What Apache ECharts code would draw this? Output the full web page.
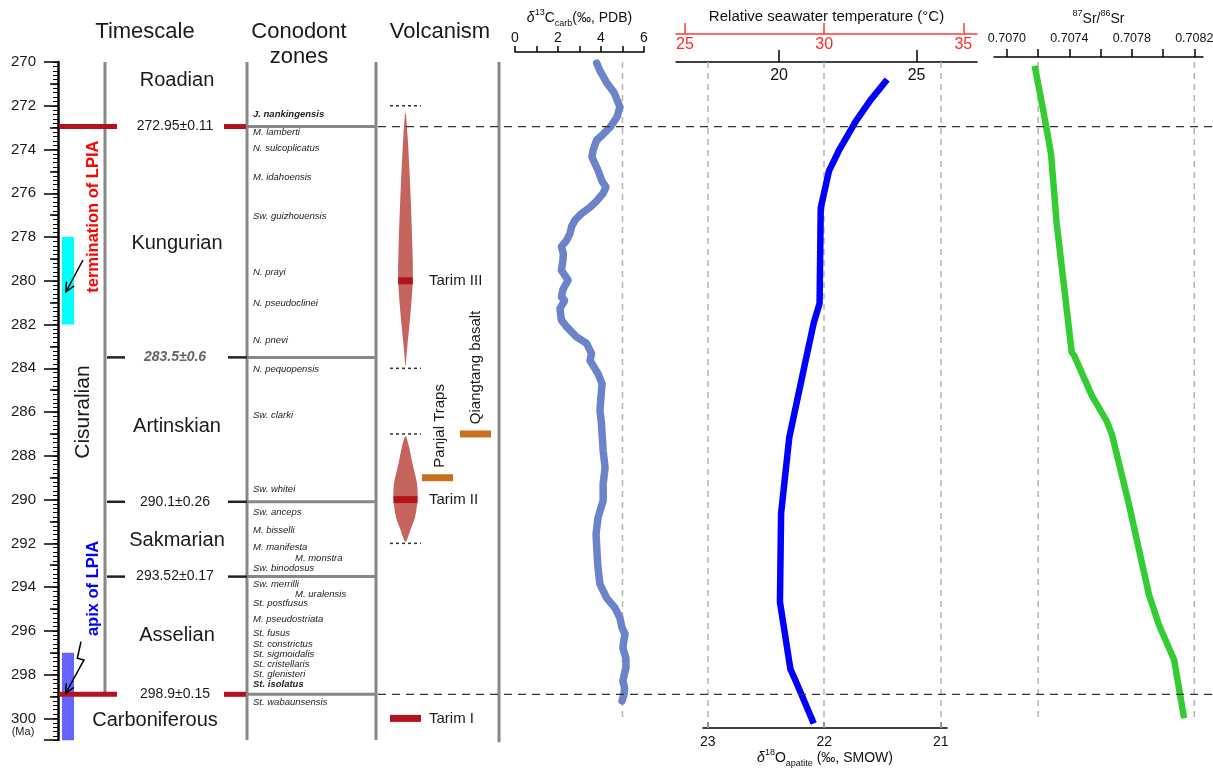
<!DOCTYPE html>
<html><head><meta charset="utf-8">
<script src="https://cdn.jsdelivr.net/npm/echarts@6/dist/echarts.min.js"></script>
<style>html,body{margin:0;padding:0;background:#fff}#c{width:1213px;height:768px}</style>
</head><body><div id="c"></div>
<script>
// ================= DATA =================
// δ13C carb (‰ PDB) vs age (Ma)
const c13Age = [270.05,270.40,270.95,271.42,272.05,272.50,272.95,273.30,273.57,274.03,274.35,274.95,275.45,275.72,276.00,276.35,276.64,276.92,277.23,277.50,277.83,278.15,278.44,278.75,279.06,279.52,279.97,280.40,280.74,280.90,281.27,281.80,282.10,282.56,282.86,283.33,283.64,284.24,284.70,285.30,285.93,286.50,286.99,287.77,288.54,289.28,290.05,290.83,291.57,292.34,293.12,293.86,294.50,294.95,295.41,295.87,296.14,296.50,296.79,297.24,297.70,298.00,298.30,298.60,298.89,299.20];
const c13Val = [3.80,3.95,4.27,4.62,4.88,4.75,4.45,4.10,3.80,3.63,3.58,3.86,4.05,4.23,4.10,3.80,3.49,3.10,2.79,2.64,2.56,2.40,2.16,2.25,2.23,2.16,2.47,2.23,2.16,2.31,2.09,2.16,2.40,2.86,3.33,3.56,3.49,3.86,4.05,4.00,3.95,4.02,4.05,4.10,4.19,4.10,4.10,3.86,3.77,3.81,3.86,3.95,4.27,4.65,4.88,4.98,5.12,5.05,5.02,5.16,5.16,5.08,5.02,5.10,5.07,4.98];
const c13Ref = 5;
// δ18O apatite (‰ SMOW)
const o18Age = [270.80,271.72,272.71,274.00,274.99,276.67,281.03,281.92,283.90,287.16,290.63,294.68,297.75,298.35,300.23];
const o18Val = [21.46,21.60,21.73,21.87,21.96,22.03,22.04,22.09,22.17,22.30,22.37,22.38,22.29,22.24,22.09];
const o18Ticks = [21,22,23];
// relative seawater temperature axes
const tempAbsTicks = [20,25];
const tempRelTicks = [25,30,35];
// 87Sr/86Sr
const srAge = [270.18,272.20,274.18,277.34,283.27,283.43,285.25,286.44,287.03,290.20,294.35,295.73,297.32,299.99];
const srVal = [0.707178,0.707232,0.707282,0.707318,0.707415,0.707432,0.707544,0.707641,0.707673,0.707781,0.707910,0.707974,0.708071,0.708135];
const srTicks = [0.7070,0.7072,0.7074,0.7076,0.7078,0.7080,0.7082];
const srLabels = [0.7070,0.7074,0.7078,0.7082];
const srRef = [0.7072,0.7082];
// left age axis
const ageMin = 270, ageLabelStep = 2;
// timescale
const stageNames = ['Roadian','Kungurian','Artinskian','Sakmarian','Asselian','Carboniferous'];
const stageAges = [270.85,278.29,286.67,291.85,296.19,300.1];
const boundaryAges = [272.95,283.5,290.1,293.52,298.9];
const boundaryLabels = ['272.95±0.11','283.5±0.6','290.1±0.26','293.52±0.17','298.9±0.15'];
const keyBoundaries = [272.95,298.9];
const seriesName = 'Cisuralian', seriesLabelAge = 286.0;
const lpiaTermination = [278,282], lpiaApex = [297,301];
const lpiaTermText = 'termination of LPIA', lpiaTermTextAge = 277.07;
const lpiaApexText = 'apix of LPIA', lpiaApexTextAge = 294.06;
// conodont zones
const conoNames = ['J. nankingensis','M. lamberti','N. sulcoplicatus','M. idahoensis','Sw. guizhouensis','N. prayi','N. pseudoclinei','N. pnevi','N. pequopensis','Sw. clarki','Sw. whitei','Sw. anceps','M. bisselli','M. manifesta','M. monstra','Sw. binodosus','Sw. merrilli','M. uralensis','St. postfusus','M. pseudostriata','St. fusus','St. constrictus','St. sigmoidalis','St. cristellaris','St. glenisteri','St. isolatus','St. wabaunsensis'];
const conoAges = [272.38,273.21,273.94,275.27,277.04,279.63,281.03,282.71,284.04,286.13,289.53,290.60,291.39,292.20,292.70,293.14,293.87,294.31,294.74,295.47,296.11,296.61,297.09,297.53,297.97,298.44,299.26];
const conoBold = ['J. nankingensis','St. isolatus'];
const conoIndented = ['M. monstra','M. uralensis'];
// volcanism
const tarimNames = ['Tarim I','Tarim II','Tarim III'];
const tarimPeak = [300,290,280];
const spindleIIIAge = [272.3,273.3,274.8,276.3,278.5,280,281.67,283.17,283.9];
const spindleIIIRel = [0,0.27,0.52,0.72,0.95,1,0.64,0.2,0];
const spindleIIAge = [287.1,287.6,288.35,289.27,290,290.8,291.4,291.93];
const spindleIIRel = [0,0.3,0.58,0.96,1,0.8,0.4,0];
const pulseLimits = [272,284,287,292];
const otherVolcNames = ['Panjal Traps','Qiangtang basalt'];
const otherVolcAges = [289,287];
const otherVolcLabelAges = [286.63,283.96];

// ================= LAYOUT =================
const FONT = '"Liberation Sans", Arial, Helvetica, sans-serif';
const TOP = 62, PX = 21.88;
const AGE_BOT = ageMin + (740 - TOP) / PX;
const AGE_BOT_O = ageMin + (728 - TOP) / PX;
const GRAY = '#878787', DRED = '#b3141c', ORANGE = '#c8701e', SPIN = '#c4645d';
const LX = { tsLine:105, conLine:247, volLine:376, endLine:499, stage:177, carb:155, bnd:175,
  cono:253, conoIndent:295, volc:405.5, volcLabel:429, lpia:[62,74], lpiaText:93, cis:83,
  dotted:[390,421], otherBars:[[422,453],[460,491]], otherText:[440,476] };
const spindleHalf = {II:12, III:7.3};
const bandHalf = [15.5,12,7.3];

// ---------- annotation builders (grid 0) ----------
const segs = [];
function seg(x1,a1,x2,a2,color,width,dash){ segs.push({x1,a1,x2,a2,color,width,dash}); }
seg(LX.tsLine, ageMin, LX.tsLine, 298.9, GRAY, 3);
[LX.conLine, LX.volLine].forEach(x => seg(x, ageMin, x, AGE_BOT, GRAY, 3));
seg(LX.endLine, ageMin, LX.endLine, AGE_BOT + 0.1, GRAY, 3);
boundaryAges.forEach(a => {
  seg(LX.conLine, a, LX.volLine, a, GRAY, 3);
  if (keyBoundaries.includes(a)) {
    seg(59, a, 117, a, DRED, 5);
    seg(224, a, 246, a, DRED, 5);
  } else {
    seg(107, a, 125, a, '#222', 2.5);
    seg(228, a, 247, a, '#222', 2.5);
  }
});
pulseLimits.forEach(a => seg(LX.dotted[0], a, LX.dotted[1], a, '#333', 1.5, [3,3]));

const rects = [];
function rect(x1,x2,a1,a2,color,hpx){ rects.push({x1,x2,a1,a2,color,hpx}); }
rect(LX.lpia[0], LX.lpia[1], lpiaTermination[0], lpiaTermination[1], '#00ffff');
rect(LX.lpia[0], LX.lpia[1], lpiaApex[0], lpiaApex[1], '#6464ff');

const texts = [];
function txt(x,a,text,o){ texts.push(Object.assign({x,a,text},o||{})); }
stageNames.forEach((n,i) => txt(n==='Carboniferous'?LX.carb:LX.stage, stageAges[i], n, {size:20}));
boundaryLabels.forEach((t,i) => txt(LX.bnd, boundaryAges[i], t,
  i===1 ? {size:14, weight:'bold', style:'italic', color:'#666'} : {size:14}));
txt(LX.cis, seriesLabelAge, seriesName, {size:21, rot:Math.PI/2});
txt(LX.lpiaText, lpiaTermTextAge, lpiaTermText, {size:16.5, weight:'bold', color:'#ff0000', rot:Math.PI/2});
txt(LX.lpiaText, lpiaApexTextAge, lpiaApexText, {size:16.5, weight:'bold', color:'#0000ff', rot:Math.PI/2});
conoNames.forEach((n,i) => txt(conoIndented.includes(n)?LX.conoIndent:LX.cono, conoAges[i], n,
  {size:9.5, style:'italic', weight: conoBold.includes(n)?'bold':'normal', align:'left', color:'#222'}));
tarimNames.forEach((n,i) => {
  txt(LX.volcLabel, tarimPeak[i], n, {size:15, align:'left'});
  rect(LX.volc - bandHalf[i], LX.volc + bandHalf[i], tarimPeak[i], tarimPeak[i], DRED, 7);
});
otherVolcNames.forEach((n,i) => {
  rect(LX.otherBars[i][0], LX.otherBars[i][1], otherVolcAges[i], otherVolcAges[i], ORANGE, 7);
  txt(LX.otherText[i], otherVolcLabelAges[i], n, {size:15, rot:Math.PI/2});
});

const spindles = [
  {ages:spindleIIIAge, rel:spindleIIIRel, half:spindleHalf.III},
  {ages:spindleIIAge, rel:spindleIIRel, half:spindleHalf.II}
];
const arrows = [
  [[83,279.05],[66,280.5]],
  [[81,296.49],[77.3,297.25],[84,297.33],[65.7,298.85]]
];

function custom(data, renderItem, z){
  return {type:'custom', xAxisIndex:0, yAxisIndex:0, silent:true, clip:false, z:z||3,
    data, renderItem};
}
const annotSeries = [
  custom(rects.map(r=>[r.x1,r.a1,r.x2,r.a2]), (p,api)=>{
    const r = rects[p.dataIndex];
    const a = api.coord([api.value(0), api.value(1)]), b = api.coord([api.value(2), api.value(3)]);
    let y1 = a[1], y2 = b[1];
    if (r.hpx) { y1 = a[1] - r.hpx/2; y2 = a[1] + r.hpx/2; }
    return {type:'rect', shape:{x:a[0], y:y1, width:b[0]-a[0], height:y2-y1}, style:{fill:r.color}};
  }, 3),
  custom(spindles.map(s=>[LX.volc, s.ages[0]]), (p,api)=>{
    const s = spindles[p.dataIndex];
    const L = [], R = [];
    s.ages.forEach((a,i)=>{ const c = api.coord([LX.volc, a]); L.push([c[0]-s.rel[i]*s.half, c[1]]); R.push([c[0]+s.rel[i]*s.half, c[1]]); });
    const pts = L.concat(R.slice(1,-1).reverse());
    return {type:'polygon', shape:{points:pts, smooth:0.3}, style:{fill:SPIN}};
  }, 2),
  custom(segs.map(s=>[s.x1,s.a1,s.x2,s.a2]), (p,api)=>{
    const s = segs[p.dataIndex];
    const a = api.coord([api.value(0), api.value(1)]), b = api.coord([api.value(2), api.value(3)]);
    return {type:'line', shape:{x1:a[0],y1:a[1],x2:b[0],y2:b[1]}, style:{stroke:s.color, lineWidth:s.width, lineDash:s.dash||null}};
  }, 4),
  custom(texts.map(t=>[t.x,t.a]), (p,api)=>{
    const t = texts[p.dataIndex];
    const c = api.coord([api.value(0), api.value(1)]);
    return {type:'text', x:c[0], y:c[1], rotation:t.rot||0,
      style:{text:t.text, fill:t.color||'#1a1a1a', fontSize:t.size, fontFamily:FONT,
        fontWeight:t.weight||'normal', fontStyle:t.style||'normal', align:t.align||'center', verticalAlign:'middle'}};
  }, 6),
  custom(arrows.map(a=>a[0]), (p,api)=>{
    const pts = arrows[p.dataIndex].map(q=>api.coord(q));
    const e = pts[pts.length-1], s = pts[pts.length-2];
    const ang = Math.atan2(e[1]-s[1], e[0]-s[0]), L = 10, w = 0.45;
    const h1 = [e[0]-L*Math.cos(ang-w), e[1]-L*Math.sin(ang-w)];
    const h2 = [e[0]-L*Math.cos(ang+w), e[1]-L*Math.sin(ang+w)];
    return {type:'group', children:[
      {type:'polyline', shape:{points:pts}, style:{stroke:'#000', lineWidth:1.5, fill:null}},
      {type:'polyline', shape:{points:[h1,e,h2]}, style:{stroke:'#000', lineWidth:1.5, fill:null}}
    ]};
  }, 6)
];

// ---------- axes ----------
const hiddenY = (g, max) => ({gridIndex:g, type:'value', inverse:true, min:ageMin, max:max, show:false});
const blk = {color:'#000', width:1.5};
const richSS = {i:{fontStyle:'italic', fontSize:14, fontFamily:FONT, color:'#111'},
  sup:{fontSize:9, verticalAlign:'top', fontFamily:FONT, color:'#111', lineHeight:20},
  sub:{fontSize:9, verticalAlign:'bottom', fontFamily:FONT, color:'#111', lineHeight:20}};
const G = (o) => Object.assign({containLabel:false, outerBoundsMode:'none'}, o);

const option = {
  animation:false, backgroundColor:'#fff', textStyle:{fontFamily:FONT},
  grid:[
    G({left:58, top:TOP, width:442, height:678}),
    G({left:515, top:TOP, width:129, height:678}),
    G({left:703, top:TOP, width:244, height:666}),
    G({left:676, top:TOP, width:301, height:20}),
    G({left:994, top:TOP, width:209, height:678}),
    G({left:378, top:TOP, width:835, height:678})
  ],
  xAxis:[
    {gridIndex:0, type:'value', min:58, max:500, show:false},
    {gridIndex:1, type:'value', position:'top', offset:10, min:0, max:6, interval:1,
      axisLine:{onZero:false, lineStyle:blk}, axisTick:{length:6, lineStyle:blk},
      axisLabel:{margin:7, fontSize:14, color:'#111', formatter:v=>(v%2===0?String(v):'')},
      splitLine:{show:false},
      name:'{i|δ}{sup|13}C{sub|carb}(‰, PDB)', nameLocation:'middle', nameGap:24, nameMoveOverlap:false,
      nameTextStyle:{fontSize:14, color:'#111', lineHeight:20, rich:richSS}},
    {gridIndex:2, type:'value', position:'bottom', inverse:true, min:20.947, max:23.04,
      axisLine:{onZero:false, lineStyle:blk},
      axisTick:{inside:true, length:6, lineStyle:blk, customValues:o18Ticks},
      axisLabel:{margin:7, fontSize:14, color:'#111', customValues:o18Ticks},
      splitLine:{show:false},
      name:'{i|δ}{sup|18}O{sub|apatite} (‰, SMOW)', nameLocation:'middle', nameGap:20, nameMoveOverlap:false,
      nameTextStyle:{fontSize:14, color:'#111', lineHeight:20, rich:richSS}},
    {gridIndex:3, type:'value', position:'top', min:16.25, max:27.2,
      axisLine:{onZero:false, lineStyle:blk},
      axisTick:{length:12, lineStyle:blk, customValues:tempAbsTicks},
      axisLabel:{inside:true, margin:6, fontSize:16, color:'#111', customValues:tempAbsTicks},
      splitLine:{show:false}},
    {gridIndex:3, type:'value', position:'top', offset:28, min:24.68, max:35.49,
      axisLine:{onZero:false, lineStyle:{color:'#ff3b3b', width:1.5}},
      axisTick:{length:11, lineStyle:{color:'#ff3b3b', width:1.5}, customValues:tempRelTicks},
      axisLabel:{inside:true, margin:3, fontSize:16, color:'#ff2a2a', customValues:tempRelTicks},
      splitLine:{show:false},
      name:'Relative seawater temperature (°C)', nameLocation:'middle', nameGap:10, nameMoveOverlap:false,
      nameTextStyle:{fontSize:15, color:'#111'}},
    {gridIndex:4, type:'value', position:'top', offset:5, min:0.706917, max:0.708256,
      axisLine:{onZero:false, lineStyle:blk},
      axisTick:{length:8, lineStyle:blk, customValues:srTicks},
      axisLabel:{margin:12, fontSize:12.5, color:'#111', customValues:srLabels, formatter:v=>v.toFixed(4)},
      splitLine:{show:false},
      name:'{sup|87}Sr/{sup|86}Sr', nameLocation:'middle', nameGap:28, nameMoveOverlap:false,
      nameTextStyle:{fontSize:14, color:'#111', lineHeight:20, rich:richSS}},
    {gridIndex:5, type:'value', min:0, max:1, show:false}
  ],
  yAxis:[
    {gridIndex:0, type:'value', position:'left', inverse:true, min:ageMin, max:AGE_BOT, interval:ageLabelStep,
      axisLine:{show:true, lineStyle:{color:'#000', width:2.5}},
      axisTick:{show:true, length:14, lineStyle:{color:'#000', width:1.5}},
      minorTick:{show:true, splitNumber:2, length:8, lineStyle:{color:'#000', width:1.5}},
      axisLabel:{margin:22, fontSize:15, color:'#1a1a1a', showMaxLabel:false},
      splitLine:{show:false}, minorSplitLine:{show:false}},
    {gridIndex:0, type:'value', position:'left', inverse:true, min:ageMin, max:AGE_BOT, interval:1,
      axisLine:{show:false}, axisLabel:{show:false},
      axisTick:{show:true, length:5, lineStyle:{color:'#000', width:1}},
      minorTick:{show:true, splitNumber:5, length:5, lineStyle:{color:'#000', width:1}},
      splitLine:{show:false}, minorSplitLine:{show:false}},
    hiddenY(1, AGE_BOT), hiddenY(2, AGE_BOT_O),
    {gridIndex:3, type:'value', min:0, max:1, show:false},
    hiddenY(4, AGE_BOT), hiddenY(5, AGE_BOT)
  ],
  series:[
    ...annotSeries,
    {type:'line', xAxisIndex:1, yAxisIndex:2, silent:true, showSymbol:false, z:2,
      data:[[c13Ref, ageMin],[c13Ref, 300]], lineStyle:{color:'#b4b4b4', width:1.5, type:[6,5]}},
    {type:'line', xAxisIndex:1, yAxisIndex:2, silent:true, showSymbol:false, z:3,
      data:c13Val.map((v,i)=>[v, c13Age[i]]),
      lineStyle:{color:'#6b83c8', width:7.5, cap:'round', join:'round'}},
    {type:'line', xAxisIndex:2, yAxisIndex:3, silent:true, showSymbol:false, z:3,
      data:o18Val.map((v,i)=>[v, o18Age[i]]),
      lineStyle:{color:'#0000ff', width:6.5, join:'round'},
      markLine:{silent:true, symbol:['none','none'], label:{show:false}, z:1,
        lineStyle:{color:'#b4b4b4', width:1.5, type:[6,5]},
        data:o18Ticks.map(v=>({xAxis:v}))}},
    ...srRef.map(v=>({type:'line', xAxisIndex:5, yAxisIndex:5, silent:true, showSymbol:false, z:2,
      data:[[v, ageMin],[v, 300]], lineStyle:{color:'#b4b4b4', width:1.5, type:[6,5]}})),
    {type:'line', xAxisIndex:5, yAxisIndex:5, silent:true, showSymbol:false, z:3,
      data:srVal.map((v,i)=>[v, srAge[i]]),
      lineStyle:{color:'#33cc33', width:6.5, join:'round'}},
    ...keyBoundaries.map(a=>({type:'line', xAxisIndex:6, yAxisIndex:6, silent:true, showSymbol:false, z:5,
      data:[[0,a],[1,a]], lineStyle:{color:'#333', width:1.3, type:[8,6]}}))
  ],
  graphic:[
    {type:'text', x:145, y:32, style:{text:'Timescale', fontSize:22, fontFamily:FONT, fill:'#1a1a1a', align:'center', verticalAlign:'middle'}},
    {type:'text', x:299, y:32, style:{text:'Conodont', fontSize:22, fontFamily:FONT, fill:'#1a1a1a', align:'center', verticalAlign:'middle'}},
    {type:'text', x:299, y:57, style:{text:'zones', fontSize:22, fontFamily:FONT, fill:'#1a1a1a', align:'center', verticalAlign:'middle'}},
    {type:'text', x:440, y:32, style:{text:'Volcanism', fontSize:22, fontFamily:FONT, fill:'#1a1a1a', align:'center', verticalAlign:'middle'}},
    {type:'text', x:23, y:732, style:{text:'(Ma)', fontSize:11, fontFamily:FONT, fill:'#1a1a1a', align:'center', verticalAlign:'middle'}}
  ]
};
const chart = echarts.init(document.getElementById('c'), null, {renderer:'canvas'});
chart.setOption(option);
</script></body></html>
